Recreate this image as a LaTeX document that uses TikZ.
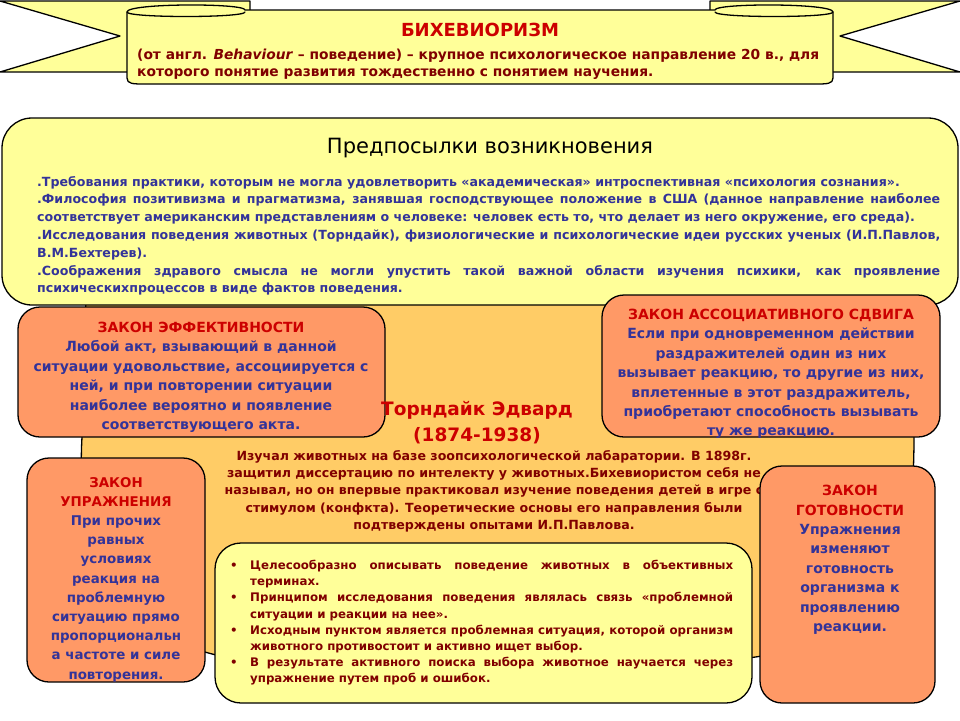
\documentclass[tikz,border=0pt]{standalone}
\usepackage{fontspec}
\setmainfont{DejaVu Sans}
\usetikzlibrary{calc}
\definecolor{lemon}{HTML}{FFFF99}
\definecolor{peach}{HTML}{FF9966}
\definecolor{apricot}{HTML}{FFCC66}
\definecolor{inkblue}{HTML}{333399}
\definecolor{lawred}{HTML}{CC0000}
\definecolor{darkred}{HTML}{800000}
\newcommand\dotitem{\par\hangindent=20pt\hangafter=1\noindent\makebox[20pt][l]{\textbullet}}
\tikzset{
	edge/.style={draw=black, line width=1.3pt},
	law/.style={edge, fill=peach, rounded corners=22pt},
	note/.style={edge, fill=lemon, rounded corners=30pt},
	lawtext/.style={inner sep=0pt, anchor=north, align=center, text=inkblue,
		font=\fontsize{14}{19.4}\selectfont\bfseries},
}
\begin{document}
\begin{tikzpicture}[x=1pt, y=-1pt, line join=round, line cap=round]
			\useasboundingbox (0,0) rectangle (960,720);
			\draw[edge, fill=lemon] (0,1) -- (250,1) -- (250,72) -- (0,72) -- (120,36) -- cycle;
			\draw[edge, fill=lemon] (960,1) -- (710,1) -- (710,72) -- (960,72) -- (840,36) -- cycle;
			\draw[edge, fill=lemon] (127,12) .. controls (127,3) and (245,3) .. (245,10) -- (715,10)
				.. controls (715,3) and (833,3) .. (833,12) -- (833,78) .. controls (833,84) and (827,84) .. (815,84)
				-- (145,84) .. controls (133,84) and (127,84) .. (127,78) -- cycle;
			\draw[edge] (127,12) .. controls (127,18) and (245,18) .. (245,12);
			\draw[edge] (715,12) .. controls (715,18) and (833,18) .. (833,12);
			\node[inner sep=0pt, text=lawred, font=\fontsize{18}{22}\selectfont\bfseries] (title) at (480,30) {БИХЕВИОРИЗМ};
			\node[inner sep=0pt, anchor=north west, align=left, text=darkred, font=\fontsize{13.8}{17}\selectfont\bfseries] (def) at (137,49)
				{(от англ. \textit{Behaviour} – поведение) – крупное психологическое направление 20 в., для\\
				которого понятие развития тождественно с понятием научения.};
			\draw[edge, fill=apricot] (86,300) -- (905,300) .. controls (915,380) and (915,430) .. (913,480)
				.. controls (905,600) and (860,655) .. (700,662) -- (260,662) .. controls (120,650) and (75,560) .. (82,437) -- cycle;
			\draw[note] (2,118) rectangle (958,305);
			\node[inner sep=0pt, font=\fontsize{21}{24}\selectfont] (pre) at (490,148) {Предпосылки возникновения};
			\node[inner sep=0pt, anchor=north west, text width=903pt, align=justify, text=inkblue,
				font=\fontsize{12.6}{17.8}\selectfont\bfseries] (why) at (37,176)
				{.Требования практики, которым не могла удовлетворить «академическая» интроспективная «психология сознания».\par
				.Философия позитивизма и прагматизма, занявшая господствующее положение в США (данное направление наиболее\linebreak
				соответствует американским представлениям о человеке: человек есть то, что делает из него окружение, его среда).\par
				.Исследования поведения животных (Торндайк), физиологические и психологические идеи русских ученых (И.П.Павлов,\linebreak
				В.М.Бехтерев).\par
				.Соображения здравого смысла не могли упустить такой важной области изучения психики, как проявление\linebreak
				психическихпроцессов в виде фактов поведения.\par};
			\draw[law] (18,307) rectangle (385,437);
			\node[lawtext] (eff) at (201,322)
				{\textcolor{lawred}{ЗАКОН ЭФФЕКТИВНОСТИ}\\Любой акт, взывающий в данной\\ситуации удовольствие, ассоциируется с\\
				ней, и при повторении ситуации\\наиболее вероятно и появление\\соответствующего акта.};
			\draw[law] (602,295) rectangle (940,437);
			\node[lawtext] (shift) at (771,309)
				{\textcolor{lawred}{ЗАКОН АССОЦИАТИВНОГО СДВИГА}\\Если при одновременном действии\\раздражителей один из них\\
				вызывает реакцию, то другие из них,\\вплетенные в этот раздражитель,\\приобретают способность вызывать\\ту же реакцию.};
			\node[inner sep=0pt, anchor=north, align=center, text=lawred, font=\fontsize{18.5}{26}\selectfont\bfseries] (name) at (477,401)
				{Торндайк Эдвард\\(1874-1938)};
			\node[inner sep=0pt, anchor=north, align=center, text=darkred, font=\fontsize{12.6}{17.3}\selectfont\bfseries] (bio) at (494,450)
				{Изучал животных на базе зоопсихологической лабаратории. В 1898г.\\
				защитил диссертацию по интелекту у животных.Бихевиористом себя не\\
				называл, но он впервые практиковал изучение поведения детей в игре с\\
				стимулом (конфкта). Теоретические основы его направления были\\
				подтверждены опытами И.П.Павлова.};
			\draw[law] (27,458) rectangle (205,682);
			\node[lawtext, font=\fontsize{13.4}{19.2}\selectfont\bfseries] (drill) at (116,477)
				{\textcolor{lawred}{ЗАКОН}\\\textcolor{lawred}{УПРАЖНЕНИЯ}\\При прочих\\равных\\условиях\\реакция на\\проблемную\\
				ситуацию прямо\\пропорциональн\\а частоте и силе\\повторения.};
			\draw[law] (760,466) rectangle (935,703);
			\node[lawtext] (ready) at (850,485)
				{\textcolor{lawred}{ЗАКОН}\\\textcolor{lawred}{ГОТОВНОСТИ}\\Упражнения\\изменяют\\готовность\\организма к\\проявлению\\реакции.};
			\draw[note, rounded corners=26pt] (215,543) rectangle (752,703);
			\node[inner sep=0pt, anchor=north west, text width=503pt, align=justify, text=darkred,
				font=\fontsize{11.8}{16.2}\selectfont\bfseries] (rules) at (230,553)
				{\dotitem Целесообразно описывать поведение животных в объективных\linebreak терминах.
				\dotitem Принципом исследования поведения являлась связь «проблемной\linebreak ситуации и реакции на нее».
				\dotitem Исходным пунктом является проблемная ситуация, которой организм\linebreak животного противостоит и активно ищет выбор.
				\dotitem В результате активного поиска выбора животное научается через\linebreak упражнение путем проб и ошибок.\par};
		\end{tikzpicture}
\end{document}
